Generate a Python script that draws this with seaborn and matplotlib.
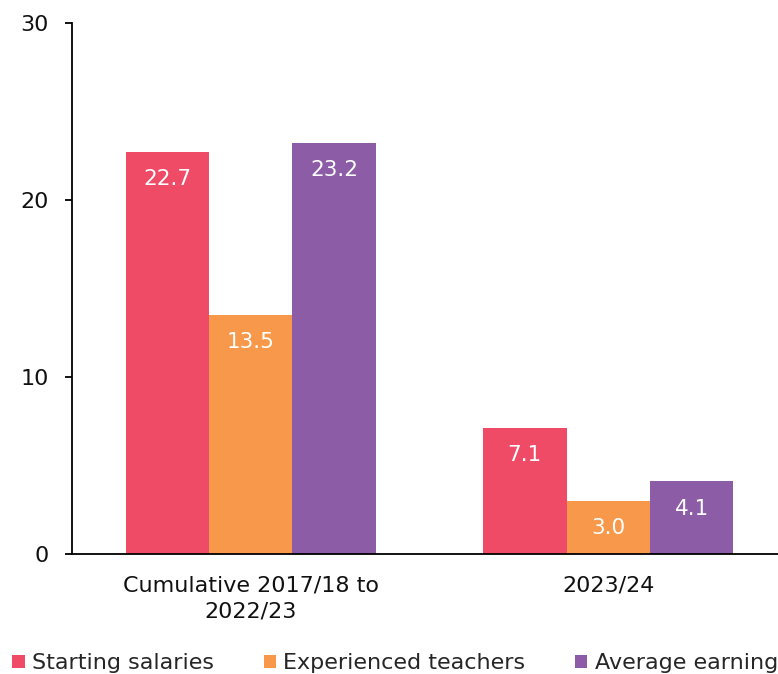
import matplotlib
matplotlib.use("Agg")
import matplotlib.pyplot as plt
import seaborn as sns
import pandas as pd
from matplotlib.patches import Patch

categories = ["Cumulative 2017/18 to\n2022/23", "2023/24"]
series = ["Starting salaries", "Experienced teachers", "Average earnings"]
starting = [22.7, 7.1]
experienced = [13.5, 3.0]
average = [23.2, 4.1]
colors = ["#EF4B66", "#F7984A", "#8C5CA7"]

rows = []
for s, vals in zip(series, [starting, experienced, average]):
    for c, v in zip(categories, vals):
        rows.append({"category": c, "series": s, "value": v})
df = pd.DataFrame(rows)

sns.set_style("white")
plt.rcParams["font.family"] = ["DejaVu Sans"]

fig = plt.figure(figsize=(7.78, 6.74), dpi=100)
ax = fig.add_axes([72/778, 1-554/674, (787-72)/778, (554-23)/674])

sns.barplot(data=df, x="category", y="value", hue="series", order=categories,
            hue_order=series, palette=colors, width=0.7, saturation=1,
            ax=ax, legend=False, edgecolor="none", linewidth=0)

ax.set_ylim(0, 30)
ax.set_yticks([0, 10, 20, 30])
ax.set_xlabel("")
ax.set_ylabel("")
for sp in ["top", "right"]:
    ax.spines[sp].set_visible(False)
for sp in ["left", "bottom"]:
    ax.spines[sp].set_color("black")
    ax.spines[sp].set_linewidth(1.3)
ax.tick_params(axis="y", which="major", direction="out", length=5, width=1.3,
               left=True, labelsize=16, pad=11.5, colors="black")
ax.tick_params(axis="x", length=0, labelsize=16, pad=15.5, colors="black")
for lab in ax.get_xticklabels() + ax.get_yticklabels():
    lab.set_color("#111111")
    lab.set_linespacing(1.4)

for cont in ax.containers:
    for bar in cont:
        h = bar.get_height()
        ax.annotate(f"{h:.1f}", (bar.get_x() + bar.get_width()/2, h),
                    xytext=(0, -19.5), textcoords="offset points",
                    ha="center", va="center", color="white", fontsize=15.5)

handles = [Patch(facecolor=c, edgecolor="none") for c in colors]
fig.legend(handles, series, loc="lower left", bbox_to_anchor=(-0.004, -0.022),
           ncol=3, frameon=False, fontsize=16, handlelength=0.55,
           handleheight=0.55, handletextpad=0.32, columnspacing=2.25,
           borderaxespad=0.3)

fig.savefig("out.png", dpi=100)
